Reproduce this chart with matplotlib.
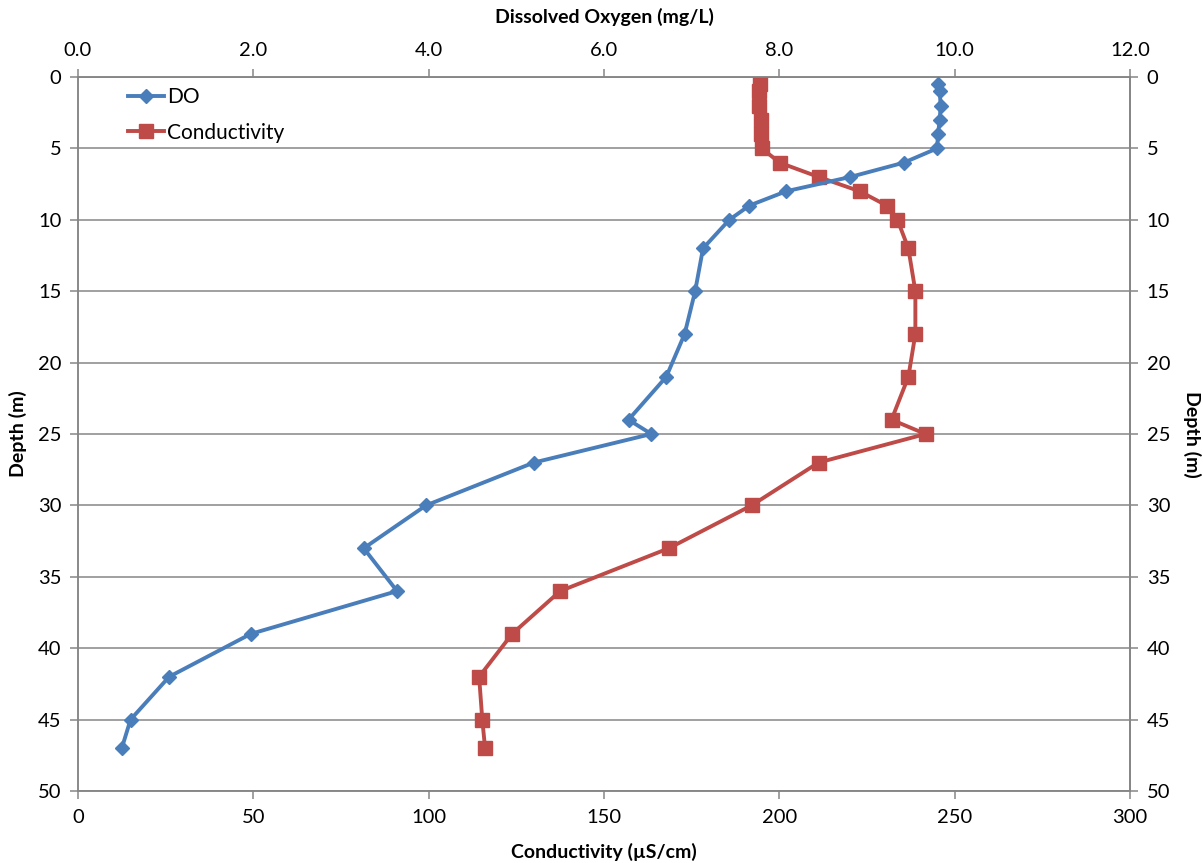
import matplotlib
matplotlib.use("Agg")
import matplotlib.pyplot as plt
from matplotlib.lines import Line2D

plt.rcParams["font.family"] = ["Lato", "DejaVu Sans"]

# depth profile (m)
depth = [0.5, 1, 2, 3, 4, 5, 6, 7, 8, 9, 10, 12, 15, 18, 21, 24, 25,
         27, 30, 33, 36, 39, 42, 45, 47]
# dissolved oxygen (mg/L)
do_mgl = [9.81, 9.83, 9.84, 9.83, 9.81, 9.80, 9.42, 8.81, 8.08, 7.66, 7.43,
          7.13, 7.04, 6.92, 6.71, 6.28, 6.54, 5.20, 3.97, 3.26, 3.64, 1.97,
          1.04, 0.60, 0.50]
# conductivity (uS/cm)
cond = [194.4, 194.1, 194.1, 194.7, 194.7, 195.0, 200.1, 211.2, 222.9, 230.6,
        233.7, 236.8, 238.8, 238.8, 236.8, 232.0, 241.7, 211.2, 192.1, 168.5,
        137.5, 123.8, 114.4, 115.3, 116.1]

DO_COLOR = "#4A7EBB"
COND_COLOR = "#BE4B48"
AX_GREY = "#868686"
LW = 2.8

fig = plt.figure(figsize=(12.03, 8.63), dpi=100)
ax = fig.add_axes([0.0648, 0.0834, 0.8745, 0.8274])

ax.plot(cond, depth, color=COND_COLOR, lw=LW, marker="s", ms=10,
        mec=COND_COLOR, zorder=3)
ax.set_xlim(0, 300)
ax.set_ylim(50, 0)
ax.set_xticks(range(0, 301, 50))
ax.set_yticks(range(0, 51, 5))
ax.yaxis.grid(True, color=AX_GREY, lw=1.1)
ax.set_axisbelow(True)

top = ax.twiny()
top.plot(do_mgl, depth, color=DO_COLOR, lw=LW, marker="D", ms=7.5,
         mec=DO_COLOR, zorder=3)
top.set_xlim(0, 12)
top.set_xticks([0, 2, 4, 6, 8, 10, 12])
top.set_xticklabels([f"{v:.1f}" for v in range(0, 13, 2)])

right = ax.secondary_yaxis("right")
right.set_yticks(range(0, 51, 5))

for a in (ax, top, right):
    for s in a.spines.values():
        s.set_color(AX_GREY)
        s.set_linewidth(1.1)

tick_kw = dict(labelsize=14.5, color=AX_GREY, length=6, width=1.1)
ax.tick_params(axis="x", pad=7, **tick_kw)
ax.tick_params(axis="y", pad=6, **tick_kw)
top.tick_params(axis="x", pad=7, **tick_kw)
right.tick_params(axis="y", pad=6, **tick_kw)

lab = dict(fontsize=14, fontweight="bold")
ax.set_xlabel("Conductivity (µS/cm)", labelpad=12, **lab)
ax.set_ylabel("Depth (m)", labelpad=8, **lab)
top.set_xlabel("Dissolved Oxygen (mg/L)", labelpad=14, **lab)
right.set_ylabel("Depth (m)", rotation=-90, labelpad=22, **lab)

handles = [
    Line2D([], [], color=DO_COLOR, lw=LW, marker="D", ms=7.5),
    Line2D([], [], color=COND_COLOR, lw=LW, marker="s", ms=10),
]
top.legend(handles, ["DO", "Conductivity"], loc="upper left",
           bbox_to_anchor=(0.03, 1.012), frameon=False, fontsize=15,
           handlelength=1.7, handletextpad=0.15, labelspacing=0.75)

fig.savefig("out.png", dpi=100)
